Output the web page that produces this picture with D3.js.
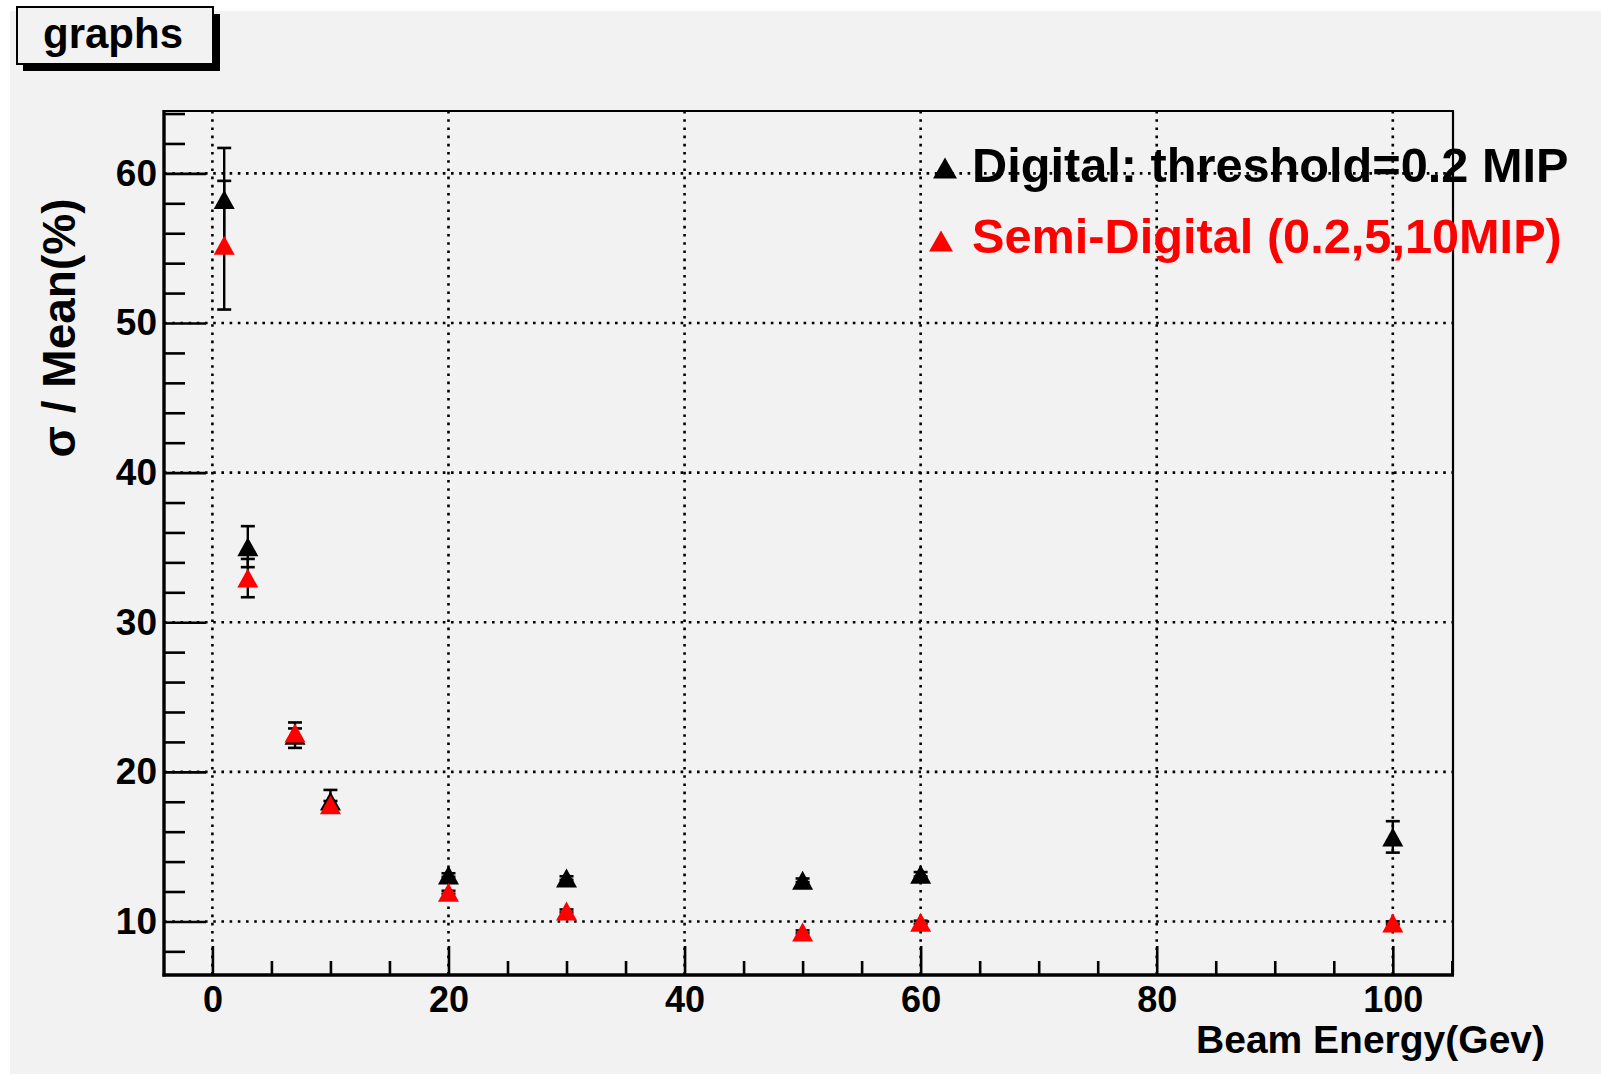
<!DOCTYPE html>
<html>
<head>
<meta charset="utf-8">
<script src="https://cdn.jsdelivr.net/npm/d3@7/dist/d3.min.js"></script>
<style>
  html, body { margin: 0; padding: 0; background: #ffffff; }
  svg { display: block; }
  text { font-family: "Liberation Sans", Arial, Helvetica, sans-serif; font-weight: bold; }
</style>
</head>
<body>
<svg id="chart" width="1601" height="1076"></svg>
<script>
// ---- data ----
const energies = [1, 3, 7, 10, 20, 30, 50, 60, 100];
const digitalValues = [58.25, 35.05, 22.45, 18.05, 13.1, 12.9, 12.75, 13.15, 15.65];
const digitalErrors = [3.45, 1.37, 0.85, 0.74, 0.12, 0.12, 0.12, 0.15, 1.05];
const semiValues = [55.2, 32.95, 22.6, 17.8, 11.95, 10.7, 9.3, 9.95, 9.9];
const semiErrors = [4.3, 1.28, 0.3, 0.25, 0.1, 0.1, 0.1, 0.1, 0.1];
const xTickValues = [0, 20, 40, 60, 80, 100];
const yTickValues = [10, 20, 30, 40, 50, 60];
const seriesNames = ["Digital: threshold=0.2 MIP", "Semi-Digital (0.2,5,10MIP)"];
const seriesColors = ["#000000", "#ff0000"];
const titleText = "graphs";
const xTitle = "Beam Energy(Gev)";
const yTitle = "σ / Mean(%)";

// ---- layout ----
const W = 1601, H = 1076;
const plot = { left: 164, right: 1453, top: 111, bottom: 975 };
const svg = d3.select("#chart");
const bg = "#f2f2f2";

svg.append("rect").attr("x", 10).attr("y", 11).attr("width", W - 10).attr("height", H - 13).attr("fill", bg);

const x = d3.scaleLinear().domain([-4.1, 105.1]).range([plot.left, plot.right]);
const y = d3.scaleLinear().domain([6.42, 64.17]).range([plot.bottom, plot.top]);

// grid
const grid = svg.append("g").attr("stroke", "#000").attr("stroke-width", 2.6)
  .attr("stroke-dasharray", "2.6,5.6").attr("fill", "none");
yTickValues.forEach(v => {
  grid.append("line").attr("x1", plot.left).attr("x2", plot.right)
    .attr("y1", y(v)).attr("y2", y(v));
});
xTickValues.forEach(v => {
  grid.append("line").attr("y1", plot.top).attr("y2", plot.bottom)
    .attr("x1", x(v)).attr("x2", x(v));
});

// frame top / right
svg.append("line").attr("x1", plot.left).attr("x2", plot.right + 1)
  .attr("y1", plot.top).attr("y2", plot.top).attr("stroke", "#000").attr("stroke-width", 2.2);
svg.append("line").attr("x1", plot.right).attr("x2", plot.right)
  .attr("y1", plot.top).attr("y2", plot.bottom).attr("stroke", "#000").attr("stroke-width", 2.2);

// minor tick values
const yMinor = d3.range(8, 65, 2).filter(v => v % 10 !== 0);
const xMinor = d3.range(5, 106, 5).filter(v => v % 20 !== 0);

// y axis
const yAxisG = svg.append("g").attr("transform", `translate(${plot.left},0)`);
yAxisG.call(d3.axisLeft(y).tickValues(yTickValues).tickSize(-42).tickPadding(7).tickFormat(d3.format("d")));
const yMinorG = svg.append("g").attr("transform", `translate(${plot.left},0)`);
yMinorG.call(d3.axisLeft(y).tickValues(yMinor).tickSize(-21).tickFormat(""));
[yAxisG, yMinorG].forEach(g => {
  g.select(".domain").remove();
  g.selectAll(".tick line").attr("stroke", "#000").attr("stroke-width", 2.6);
});
yAxisG.selectAll(".tick text").attr("font-size", 37).attr("fill", "#000")
  .style("font-family", '"Liberation Sans", Arial, sans-serif').style("font-weight", "bold");

// x axis
const xAxisG = svg.append("g").attr("transform", `translate(0,${plot.bottom})`);
xAxisG.call(d3.axisBottom(x).tickValues(xTickValues).tickSize(-29).tickPadding(11).tickFormat(d3.format("d")));
const xMinorG = svg.append("g").attr("transform", `translate(0,${plot.bottom})`);
xMinorG.call(d3.axisBottom(x).tickValues(xMinor).tickSize(-14).tickFormat(""));
[xAxisG, xMinorG].forEach(g => {
  g.select(".domain").remove();
  g.selectAll(".tick line").attr("stroke", "#000").attr("stroke-width", 2.6);
});
xAxisG.selectAll(".tick text").attr("font-size", 36).attr("fill", "#000")
  .style("font-family", '"Liberation Sans", Arial, sans-serif').style("font-weight", "bold");

// axis lines (thick)
svg.append("line").attr("x1", plot.left).attr("x2", plot.left)
  .attr("y1", plot.top - 1).attr("y2", plot.bottom + 1.5).attr("stroke", "#000").attr("stroke-width", 3.4);
svg.append("line").attr("x1", plot.left - 1.5).attr("x2", plot.right + 1)
  .attr("y1", plot.bottom).attr("y2", plot.bottom).attr("stroke", "#000").attr("stroke-width", 3.4);

// marker
const tri = (w, h) => `M0,${-h / 2}L${w / 2},${h / 2}L${-w / 2},${h / 2}Z`;
const triPath = tri(21, 19);
const legendTri = tri(24, 21);

function drawSeries(values, errors, color) {
  const g = svg.append("g");
  const capW = 14;
  energies.forEach((e, i) => {
    const cx = x(e), cy = y(values[i]);
    const y0 = y(values[i] - errors[i]), y1 = y(values[i] + errors[i]);
    g.append("line").attr("x1", cx).attr("x2", cx).attr("y1", y1).attr("y2", y0)
      .attr("stroke", "#000").attr("stroke-width", 2.4);
    [y0, y1].forEach(yy => g.append("line").attr("x1", cx - capW / 2).attr("x2", cx + capW / 2)
      .attr("y1", yy).attr("y2", yy).attr("stroke", "#000").attr("stroke-width", 2.6));
  });
  g.selectAll("path.pt").data(energies.map((e, i) => [e, values[i]])).join("path")
    .attr("class", "pt")
    .attr("d", triPath)
    .attr("transform", d => `translate(${x(d[0])},${y(d[1])})`)
    .attr("fill", color);
}
drawSeries(digitalValues, digitalErrors, seriesColors[0]);
drawSeries(semiValues, semiErrors, seriesColors[1]);

// legend
const legendRows = [
  { mx: 945, my: 168, tx: 972, ty: 182 },
  { mx: 941, my: 241, tx: 972, ty: 253 }
];
seriesNames.forEach((name, i) => {
  const r = legendRows[i];
  svg.append("path").attr("d", legendTri).attr("transform", `translate(${r.mx},${r.my})`).attr("fill", seriesColors[i]);
  svg.append("text").attr("x", r.tx).attr("y", r.ty).attr("font-size", 48.7).attr("fill", seriesColors[i]).text(name);
});

// axis titles
svg.append("text").attr("x", 1545).attr("y", 1053).attr("text-anchor", "end")
  .attr("font-size", 39).attr("fill", "#000").text(xTitle);
svg.append("text").attr("transform", "translate(75,328) rotate(-90)").attr("text-anchor", "middle")
  .attr("font-size", 46).attr("fill", "#000").text(yTitle);

// title box
svg.append("rect").attr("x", 23).attr("y", 14).attr("width", 197).attr("height", 57).attr("fill", "#000");
svg.append("rect").attr("x", 17).attr("y", 7).attr("width", 196).attr("height", 57)
  .attr("fill", bg).attr("stroke", "#000").attr("stroke-width", 2);
svg.append("text").attr("x", 113).attr("y", 48).attr("text-anchor", "middle")
  .attr("font-size", 42).attr("fill", "#000").text(titleText);
</script>
</body>
</html>
